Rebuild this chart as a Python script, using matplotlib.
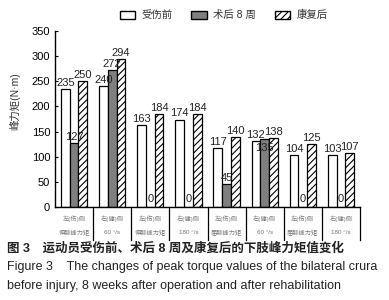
import matplotlib.pyplot as plt
import numpy as np
from matplotlib.patches import Patch

plt.rcParams['font.family'] = ['Liberation Sans', 'Noto Sans CJK SC']
plt.rcParams['hatch.linewidth'] = 0.8

# Data
groups = ["左(伤)侧\n伸膝峰力矩", "右(健)侧\n60 °/s", "左(伤)侧\n伸膝峰力矩", "右(健)侧\n180 °/s",
          "左(伤)侧\n屈膝峰力矩", "右(健)侧\n60 °/s", "左(伤)侧\n屈膝峰力矩", "右(健)侧\n180 °/s"]
before = [235, 240, 163, 174, 117, 132, 104, 103]
after8w = [127, 272, 0, 0, 45, 135, 0, 0]
rehab = [250, 294, 184, 184, 140, 138, 125, 107]
series_names = ["受伤前", "术后 8 周", "康复后"]

fig = plt.figure(figsize=(3.89, 3.00), dpi=100)
ax = fig.add_axes([55/389, 1-207/300, 305/389, 176/300])

x = np.arange(len(groups))
w = 0.23
b1 = ax.bar(x - w, before, w, color='white', edgecolor='black', lw=0.9)
b2 = ax.bar(x, after8w, w, color='#7f7f7f', edgecolor='black', lw=0.9)
b3 = ax.bar(x + w, rehab, w, color='white', edgecolor='black', lw=0.9, hatch='/////')

for k, (bars, vals) in enumerate([(b1, before), (b2, after8w), (b3, rehab)]):
    for i, (r, v) in enumerate(zip(bars, vals)):
        yy = v + 2 if v > 0 else 5
        # gray label pushed below when it would collide with its neighbours
        if k == 1 and v > 0 and abs(v - before[i]) < 15:
            yy = v - 28
        ax.text(r.get_x() + r.get_width()/2, yy, str(v), ha='center', va='bottom',
                fontsize=8, color='#222222')

ax.set_xlim(-0.5, len(groups) - 0.5)
ax.set_ylim(0, 350)
ax.set_yticks(range(0, 351, 50))
ax.tick_params(axis='y', labelsize=8, length=2, direction='in')
ax.set_xticks([])
ax.spines['top'].set_visible(False)
ax.spines['right'].set_visible(False)
ax.spines['left'].set_linewidth(1.0)
ax.spines['bottom'].set_linewidth(1.0)

# separators under the axis and category labels
tr = ax.get_xaxis_transform()
for xs in np.arange(0.5, len(groups), 1.0):
    ax.plot([xs, xs], [0, -0.19], color='black', lw=0.9, transform=tr, clip_on=False)
for i, g in enumerate(groups):
    top, bot = g.split("\n")
    ax.text(i, -0.065, top, transform=tr, ha='center', va='center', fontsize=4.5, color='#777777')
    ax.text(i, -0.145, bot, transform=tr, ha='center', va='center', fontsize=4.5, color='#777777')

ax.set_ylabel("峰力矩(N·m)", fontsize=7.5, color='#333333')
ax.yaxis.set_label_coords(-0.115, 0.6)

handles = [Patch(facecolor='white', edgecolor='black'),
           Patch(facecolor='#7f7f7f', edgecolor='black'),
           Patch(facecolor='white', edgecolor='black', hatch='/////')]
fig.legend(handles, series_names, loc='center', bbox_to_anchor=(0.575, 0.95), ncol=3,
           frameon=False, fontsize=7.5, handlelength=1.5, handleheight=0.8,
           columnspacing=1.8, handletextpad=0.6, labelcolor='#333333')

fig.text(7/389, 1-248/300, "图 3　运动员受伤前、术后 8 周及康复后的下肢峰力矩值变化",
         fontsize=9, fontweight='bold', va='center', ha='left', color='#222222')
fig.text(7/389, 1-267/300, "Figure 3    The changes of peak torque values of the bilateral crura",
         fontsize=9, va='center', ha='left', color='#222222')
fig.text(7/389, 1-286/300, "before injury, 8 weeks after operation and after rehabilitation",
         fontsize=9, va='center', ha='left', color='#222222')

fig.savefig("out.png", dpi=100)
